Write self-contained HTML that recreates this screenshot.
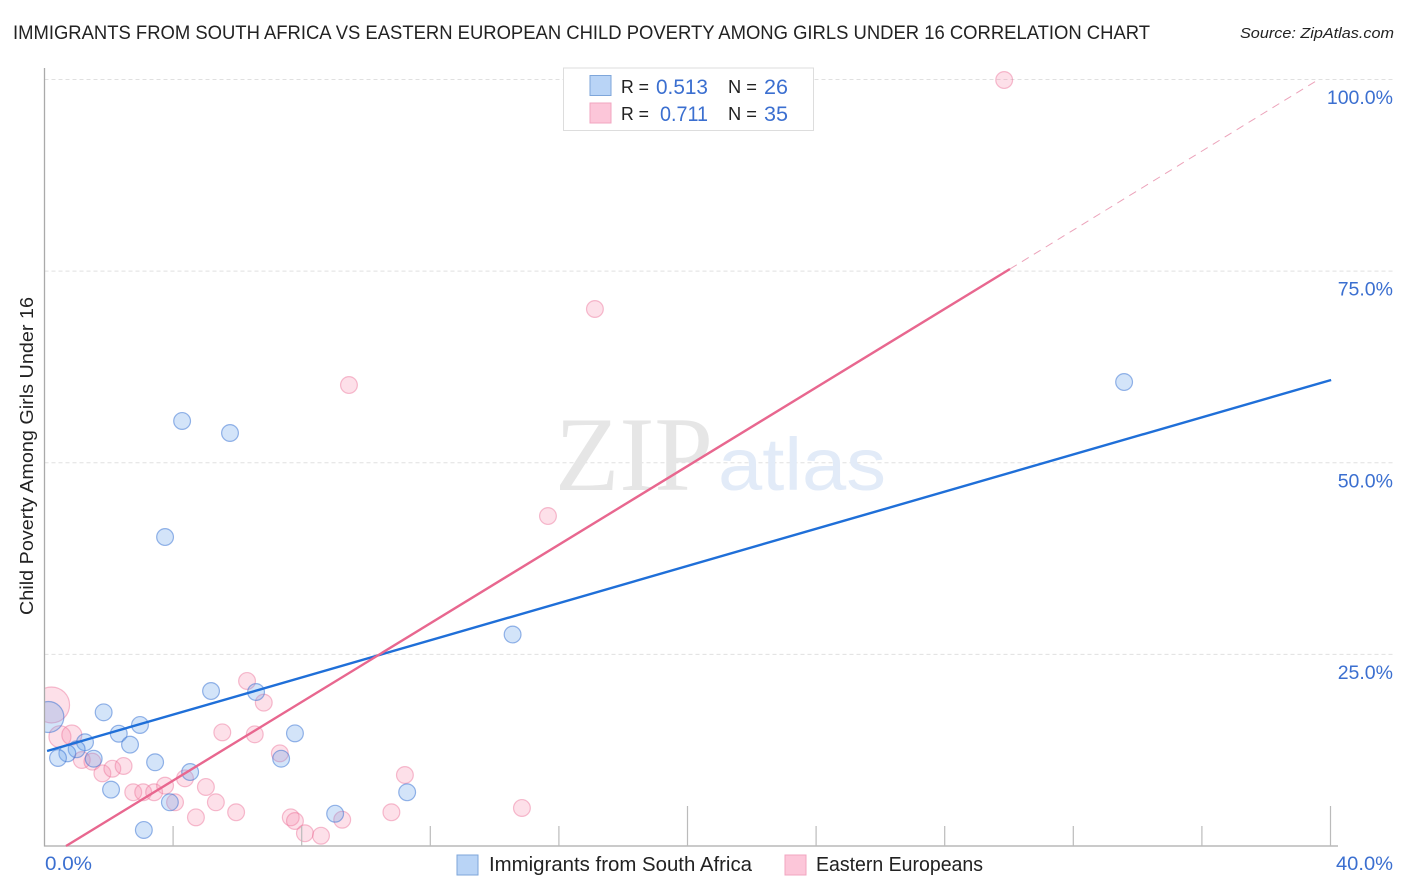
<!DOCTYPE html>
<html>
<head>
<meta charset="utf-8">
<title>Correlation Chart</title>
<style>
html,body{margin:0;padding:0;background:#fff;width:1406px;height:892px;overflow:hidden}
svg{display:block;font-family:"Liberation Sans",sans-serif}
</style>
</head>
<body>
<svg id="chart" xmlns="http://www.w3.org/2000/svg" width="1406" height="892" viewBox="0 0 1406 892">
  <defs><clipPath id="plot-clip"><rect x="45" y="60" width="1349" height="786"/></clipPath></defs>
  <rect x="0" y="0" width="1406" height="892" fill="#fff"/>
  <text x="13" y="39" font-size="19" fill="#222" textLength="1137" lengthAdjust="spacingAndGlyphs">IMMIGRANTS FROM SOUTH AFRICA VS EASTERN EUROPEAN CHILD POVERTY AMONG GIRLS UNDER 16 CORRELATION CHART</text>
  <text x="1394" y="38" font-size="15" font-style="italic" fill="#222" text-anchor="end" textLength="154" lengthAdjust="spacingAndGlyphs">Source: ZipAtlas.com</text>
  <g id="grid"></g>
  <g>
    <text x="555" y="490" font-family="'Liberation Serif',serif" font-size="106" fill="#e6e6e6" textLength="158" lengthAdjust="spacingAndGlyphs">ZIP</text>
    <text x="718" y="490" font-size="74" fill="#e2ebf8" textLength="168" lengthAdjust="spacingAndGlyphs">atlas</text>
  </g>
  <g id="ylabels"></g>
  <g id="xlabels"></g>
  <text transform="translate(33,456) rotate(-90)" font-size="18.5" fill="#222" text-anchor="middle" textLength="318" lengthAdjust="spacingAndGlyphs">Child Poverty Among Girls Under 16</text>
  <g id="points" clip-path="url(#plot-clip)"></g>
  <rect x="0" y="670" width="44.6" height="100" fill="#fff"/>
  <g id="axes"></g>
  <g id="trends"></g>
  <g>
    <rect x="563.5" y="68" width="250" height="62.5" fill="#fff" stroke="#ddd" stroke-width="1"/>
    <rect x="590" y="75.5" width="21" height="20" fill="#b9d4f6" stroke="#7ea6da" stroke-width="1"/>
    <rect x="590" y="103" width="21" height="20" fill="#fcc6d9" stroke="#f2a5c0" stroke-width="1"/>
    <text x="621" y="93" font-size="18.5" fill="#222" textLength="28" lengthAdjust="spacingAndGlyphs">R =</text>
    <text x="656" y="94" font-size="21" fill="#3b6fd0" textLength="52" lengthAdjust="spacingAndGlyphs">0.513</text>
    <text x="728" y="93" font-size="18.5" fill="#222" textLength="29" lengthAdjust="spacingAndGlyphs">N =</text>
    <text x="764" y="94" font-size="21" fill="#3b6fd0" textLength="24" lengthAdjust="spacingAndGlyphs">26</text>
    <text x="621" y="120" font-size="18.5" fill="#222" textLength="28" lengthAdjust="spacingAndGlyphs">R =</text>
    <text x="660" y="121" font-size="21" fill="#3b6fd0" textLength="48" lengthAdjust="spacingAndGlyphs">0.711</text>
    <text x="728" y="120" font-size="18.5" fill="#222" textLength="29" lengthAdjust="spacingAndGlyphs">N =</text>
    <text x="764" y="121" font-size="21" fill="#3b6fd0" textLength="24" lengthAdjust="spacingAndGlyphs">35</text>
  </g>
  <g>
    <rect x="457" y="855" width="21" height="20" fill="#b9d4f6" stroke="#7ea6da" stroke-width="1"/>
    <text x="489" y="871" font-size="20" fill="#222" textLength="263" lengthAdjust="spacingAndGlyphs">Immigrants from South Africa</text>
    <rect x="785" y="855" width="21" height="20" fill="#fcc6d9" stroke="#f2a5c0" stroke-width="1"/>
    <text x="816" y="871" font-size="20" fill="#222" textLength="167" lengthAdjust="spacingAndGlyphs">Eastern Europeans</text>
  </g>
</svg>
<script>
var blueX = [0.12,1.84,2.31,2.97,2.66,1.26,1.00,0.71,0.42,1.53,2.07,3.44,3.09,5.18,4.53,3.90,6.58,7.36,7.79,9.04,11.28,3.75,4.28,5.77,14.56,33.58];
var blueY = [16.83,17.44,14.65,15.79,13.22,13.53,12.62,12.09,11.48,11.39,7.35,10.92,2.09,20.22,9.65,5.70,20.09,11.39,14.70,4.21,7.01,40.31,55.45,53.88,27.59,60.53];
var blueR = [15.5,8.4,8.4,8.4,8.4,8.4,8.4,8.4,8.4,8.4,8.4,8.4,8.4,8.4,8.4,8.4,8.4,8.4,8.4,8.4,8.4,8.4,8.4,8.4,8.4,8.4];
var pinkX = [0.22,0.48,0.85,1.16,1.49,1.80,2.11,2.46,2.76,3.07,3.41,3.75,4.37,4.06,4.71,5.02,5.33,5.96,5.53,6.30,6.82,6.54,7.32,7.66,7.79,8.10,8.60,9.26,10.79,11.21,14.85,15.66,17.12,9.47,29.85];
var pinkY = [18.40,14.26,14.48,11.22,11.00,9.48,10.08,10.44,7.01,7.01,7.01,7.87,8.83,5.70,3.74,7.70,5.70,4.40,14.83,21.53,18.70,14.57,12.09,3.74,3.26,1.66,1.34,3.43,4.40,9.26,4.96,43.05,70.06,60.14,99.93];
var pinkR = [18,11,10,8.4,8.4,8.4,8.4,8.4,8.4,8.4,8.4,8.4,8.4,8.4,8.4,8.4,8.4,8.4,8.4,8.4,8.4,8.4,8.4,8.4,8.4,8.4,8.4,8.4,8.4,8.4,8.4,8.4,8.4,8.4,8.4];
var blueTrendX = [0.08,40.02];
var blueTrendY = [12.39,60.80];
var pinkTrendX = [0.67,30.03];
var pinkTrendY = [0,75.28];
var pinkDashX = [30.03,39.6];
var pinkDashY = [75.28,99.93];
var yTicks = [25,50,75,100];
var yTickLabels = ["25.0%","50.0%","75.0%","100.0%"];
var xTicks = [4,8,12,16,20,24,28,32,36,40];
var xMajorTicks = [20,40];
var xTickValues = [0,40];
var xTickLabels = ["0.0%","40.0%"];

var NS = "http://www.w3.org/2000/svg";
function xPx(v){ return 44.5 + v * 32.15; }
function yPx(v){ return 846 - v * 7.665; }
function make(tag, attrs, parent){
  var el = document.createElementNS(NS, tag);
  for (var k in attrs) el.setAttribute(k, attrs[k]);
  parent.appendChild(el);
  return el;
}
var grid = document.getElementById("grid");
var axes = document.getElementById("axes");
var ylabels = document.getElementById("ylabels");
var xlabels = document.getElementById("xlabels");
var points = document.getElementById("points");
var trends = document.getElementById("trends");

yTicks.forEach(function(t, i){
  var line = make("line", {x1:44.5, x2:1394, y1:yPx(t), y2:yPx(t), stroke:"#e0e0e0", "stroke-width":1, "stroke-dasharray":"4 3"}, grid);
  
  
  var label = make("text", {x:1393, y:yPx(t)+24.5, "font-size":19.5, fill:"#3b6fd0", "text-anchor":"end"}, ylabels);
  label.textContent = yTickLabels[i];
  
  
});

var yAxis = make("line", {x1:44.5, x2:44.5, y1:68, y2:846.5, stroke:"#aaa", "stroke-width":1.3}, axes);


var xAxis = make("line", {x1:44, x2:1338, y1:846, y2:846, stroke:"#aaa", "stroke-width":1.3}, axes);



xTicks.forEach(function(t){
  var major = xMajorTicks.indexOf(t) >= 0;
  var tick = make("line", {x1:xPx(t), x2:xPx(t), y1:major ? 806 : 826, y2:846, stroke:"#bbb", "stroke-width":1.2}, axes);
  
  
});

xTickValues.forEach(function(t, i){
  var first = i === 0;
  var label = make("text", {x:first ? 45 : 1336, y:870, "font-size":19.5, fill:"#3b6fd0", textLength:first ? 47 : 57, lengthAdjust:"spacingAndGlyphs"}, xlabels);
  label.textContent = xTickLabels[i];
  
  
});

pinkX.forEach(function(v, i){
  var c = make("circle", {cx:xPx(v), cy:yPx(pinkY[i]), r:pinkR[i], fill:"rgba(246,140,172,0.27)", stroke:"rgba(236,110,150,0.45)", "stroke-width":1.2}, points);
  
  
});
blueX.forEach(function(v, i){
  var c = make("circle", {cx:xPx(v), cy:yPx(blueY[i]), r:blueR[i], fill:"rgba(110,165,235,0.3)", stroke:"rgba(50,110,210,0.5)", "stroke-width":1.2}, points);
  
  
});

var blueLine = make("line", {x1:xPx(blueTrendX[0]), y1:yPx(blueTrendY[0]), x2:xPx(blueTrendX[1]), y2:yPx(blueTrendY[1]), stroke:"#1f6fd8", "stroke-width":2.4}, trends);


var pinkLine = make("line", {x1:xPx(pinkTrendX[0]), y1:yPx(pinkTrendY[0]), x2:xPx(pinkTrendX[1]), y2:yPx(pinkTrendY[1]), stroke:"#e8678f", "stroke-width":2.4}, trends);


var pinkDash = make("line", {x1:xPx(pinkDashX[0]), y1:yPx(pinkDashY[0]), x2:xPx(pinkDashX[1]), y2:yPx(pinkDashY[1]), stroke:"#eca3ba", "stroke-width":1, "stroke-dasharray":"8 6"}, trends);


</script>
</body>
</html>
